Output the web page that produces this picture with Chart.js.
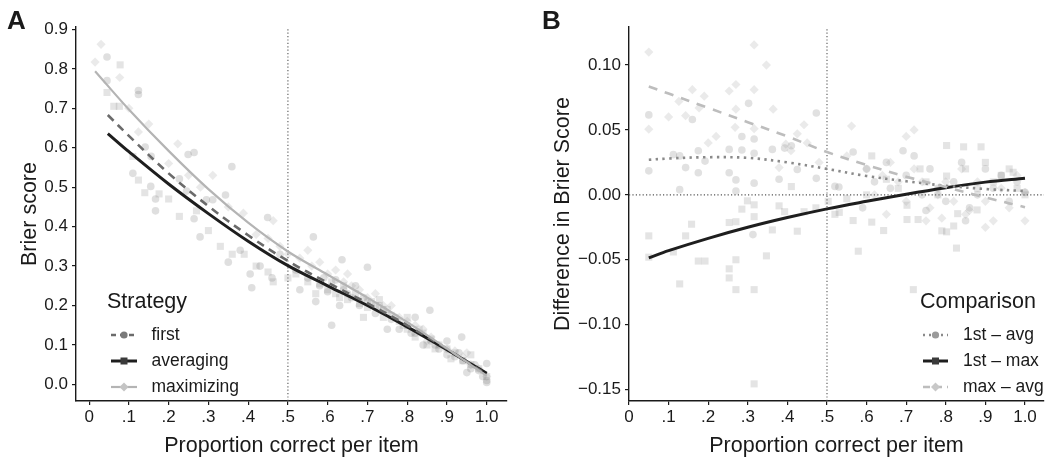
<!DOCTYPE html>
<html><head><meta charset="utf-8">
<script src="https://cdn.jsdelivr.net/npm/chart.js@4.4.1/dist/chart.umd.min.js"></script>
<style>
html,body{margin:0;padding:0;background:#fff;}
#wrap{position:relative;width:1055px;height:459px;overflow:hidden;}
.c{position:absolute;top:0;}
</style></head><body>
<div id="wrap">
<div class="c" style="left:0;"><canvas id="a" width="527" height="459"></canvas></div>
<div class="c" style="left:527px;"><canvas id="b" width="528" height="459"></canvas></div>
</div>
<script>
// ---------- data ----------
const xTicks = [0,0.1,0.2,0.3,0.4,0.5,0.6,0.7,0.8,0.9,1.0];
const xTickLabels = ["0",".1",".2",".3",".4",".5",".6",".7",".8",".9","1.0"];
const aYTicks = [0,0.1,0.2,0.3,0.4,0.5,0.6,0.7,0.8,0.9];
const aYTickLabels = ["0.0","0.1","0.2","0.3","0.4","0.5","0.6","0.7","0.8","0.9"];
const bYTicks = [-0.15,-0.10,-0.05,0,0.05,0.10];
const bYTickLabels = ["\u22120.15","\u22120.10","\u22120.05","0.00","0.05","0.10"];

const aTitleX = "Proportion correct per item";
const aTitleY = "Brier score";
const bTitleY = "Difference in Brier Score";
const legendATitle = "Strategy";
const legendALabels = ["first","averaging","maximizing"];
const legendBTitle = "Comparison";
const legendBLabels = ["1st \u2013 avg","1st \u2013 max","max \u2013 avg"];

// Panel A fitted curves
const firstCurveX = [0.047,0.1,0.2,0.3,0.4,0.5,0.6,0.7,0.8,0.9,1.0];
const firstCurveY = [0.683,0.630,0.535,0.452,0.378,0.313,0.258,0.206,0.150,0.090,0.025];
const avgCurveX   = [0.047,0.1,0.2,0.3,0.4,0.5,0.6,0.7,0.8,0.9,1.0];
const avgCurveY   = [0.636,0.590,0.508,0.433,0.363,0.301,0.250,0.200,0.146,0.088,0.028];
const maxCurveX   = [0.015,0.1,0.2,0.3,0.4,0.5,0.6,0.7,0.8,0.9,1.0];
const maxCurveY   = [0.794,0.697,0.592,0.495,0.410,0.337,0.278,0.220,0.158,0.091,0.022];

// Panel A item points [x, y]
const firstPts = [[0.045,0.83],[0.045,0.77],[0.124,0.745],[0.124,0.735],[0.141,0.602],[0.156,0.578],[0.11,0.535],[0.155,0.502],[0.167,0.47],[0.167,0.44],[0.249,0.583],[0.264,0.588],[0.359,0.552],[0.264,0.42],[0.295,0.468],[0.311,0.468],[0.343,0.48],[0.227,0.521],[0.245,0.49],[0.449,0.423],[0.279,0.374],[0.35,0.31],[0.409,0.245],[0.405,0.28],[0.564,0.374],[0.70,0.297],[0.61,0.15],[0.857,0.188],[0.937,0.12],[0.48,0.33],[0.52,0.29],[0.55,0.27],[0.58,0.25],[0.6,0.235],[0.62,0.265],[0.636,0.316],[0.64,0.24],[0.66,0.22],[0.68,0.2],[0.7,0.21],[0.72,0.18],[0.74,0.19],[0.76,0.165],[0.78,0.14],[0.8,0.15],[0.82,0.13],[0.84,0.1],[0.86,0.11],[0.88,0.09],[0.9,0.075],[0.92,0.07],[0.94,0.06],[0.96,0.04],[0.98,0.035],[1.0,0.005],[1.0,0.01],[1.0,0.053],[0.99,0.02],[0.97,0.05],[0.95,0.03],[0.53,0.24],[0.57,0.21],[0.63,0.2],[0.67,0.25],[0.75,0.14],[0.82,0.17],[0.9,0.11],[0.43,0.3],[0.38,0.34],[0.46,0.27],[0.59,0.27],[0.65,0.23],[0.69,0.22],[0.73,0.2],[0.77,0.17],[0.81,0.13],[0.87,0.1],[0.93,0.08]];
const avgPts = [[0.045,0.74],[0.062,0.705],[0.076,0.705],[0.078,0.81],[0.11,0.578],[0.124,0.518],[0.14,0.486],[0.176,0.483],[0.227,0.426],[0.463,0.26],[0.36,0.33],[0.39,0.33],[0.42,0.30],[0.45,0.285],[0.5,0.27],[0.52,0.28],[0.55,0.26],[0.58,0.255],[0.6,0.24],[0.62,0.23],[0.64,0.25],[0.65,0.215],[0.68,0.205],[0.7,0.195],[0.72,0.2],[0.74,0.17],[0.76,0.175],[0.78,0.16],[0.8,0.14],[0.8,0.17],[0.82,0.12],[0.84,0.13],[0.86,0.115],[0.88,0.1],[0.9,0.09],[0.92,0.08],[0.94,0.06],[0.96,0.05],[0.98,0.04],[1.0,0.02],[0.3,0.39],[0.27,0.44],[0.2,0.47],[0.33,0.35],[0.57,0.23],[0.67,0.23],[0.73,0.215],[0.85,0.1],[0.91,0.065],[0.96,0.075],[0.69,0.17],[0.61,0.26],[0.63,0.22],[0.71,0.21],[0.75,0.19],[0.79,0.15],[0.83,0.14],[0.87,0.09]];
const maxPts = [[0.03,0.862],[0.015,0.817],[0.077,0.778],[0.124,0.64],[0.223,0.61],[0.311,0.53],[0.388,0.434],[0.463,0.415],[0.2,0.56],[0.25,0.53],[0.35,0.45],[0.42,0.38],[0.48,0.35],[0.5,0.33],[0.53,0.32],[0.56,0.3],[0.58,0.31],[0.6,0.28],[0.62,0.29],[0.64,0.26],[0.66,0.25],[0.68,0.24],[0.7,0.22],[0.72,0.23],[0.74,0.2],[0.76,0.2],[0.78,0.17],[0.8,0.16],[0.82,0.15],[0.84,0.14],[0.86,0.12],[0.88,0.1],[0.9,0.09],[0.92,0.085],[0.94,0.07],[0.96,0.05],[0.98,0.04],[1.0,0.02],[0.1,0.7],[0.15,0.66],[0.28,0.5],[0.45,0.37],[0.55,0.34],[0.65,0.28],[0.75,0.18],[0.85,0.11],[0.95,0.08]];

// Panel B fitted curves
const bCurveX = [0.05,0.1,0.2,0.3,0.4,0.5,0.6,0.7,0.8,0.9,1.0];
const faCurveY = [0.027,0.028,0.029,0.0285,0.025,0.020,0.0145,0.0105,0.007,0.0045,0.003];
const fmCurveY = [-0.0485,-0.043,-0.0335,-0.025,-0.0175,-0.0108,-0.005,0.0005,0.0055,0.0098,0.0128];
const maCurveY = [0.0835,0.078,0.067,0.056,0.045,0.033,0.023,0.014,0.006,-0.002,-0.0095];

// Panel B item points [x, y]
const faPts = [[0.05,0.0616],[0.05,0.0185],[0.112,0.031],[0.128,0.03],[0.143,0.021],[0.16,0.058],[0.175,0.034],[0.175,0.017],[0.192,0.026],[0.253,0.035],[0.253,0.017],[0.27,0.0115],[0.285,0.0345],[0.285,0.045],[0.302,0.0705],[0.316,0.043],[0.316,0.032],[0.316,0.009],[0.362,0.035],[0.379,0.012],[0.393,0.036],[0.41,0.0378],[0.425,0.0195],[0.473,0.063],[0.473,0.0127],[0.128,0.004],[0.27,0.003],[0.52,0.0065],[0.566,0.033],[0.692,0.034],[0.6,0.02],[0.62,0.01],[0.65,0.025],[0.66,0.005],[0.7,0.015],[0.72,0.03],[0.74,0.0],[0.76,0.02],[0.78,0.005],[0.8,-0.005],[0.82,0.01],[0.84,0.025],[0.86,-0.01],[0.88,0.0],[0.9,0.02],[0.92,0.005],[0.94,0.015],[0.96,-0.005],[0.98,0.01],[1.0,0.002],[0.313,-0.0306],[0.59,-0.01],[0.75,-0.012],[0.85,-0.02],[0.53,0.006]];
const fmPts = [[0.05,-0.0316],[0.05,-0.048],[0.143,-0.0316],[0.158,-0.0226],[0.175,-0.051],[0.192,-0.051],[0.253,-0.0213],[0.27,-0.0207],[0.285,-0.011],[0.299,-0.0046],[0.316,-0.0077],[0.316,-0.0168],[0.27,-0.05],[0.253,-0.057],[0.253,-0.064],[0.347,-0.047],[0.362,-0.027],[0.379,-0.0085],[0.393,-0.013],[0.41,0.0064],[0.425,-0.028],[0.442,-0.013],[0.472,-0.01],[0.503,-0.005],[0.52,-0.015],[0.112,-0.044],[0.128,-0.0686],[0.27,-0.073],[0.316,-0.073],[0.316,-0.1456],[0.579,-0.0434],[0.718,-0.073],[0.827,-0.041],[0.79,-0.0277],[0.802,0.038],[0.845,0.037],[0.889,0.037],[0.613,0.03],[0.735,0.02],[0.802,0.0145],[0.97,0.0174],[0.566,-0.0198],[0.613,-0.021],[0.643,-0.0275],[0.702,-0.019],[0.73,-0.019],[0.802,-0.0285],[0.82,-0.024],[0.83,-0.0145],[0.879,-0.0116],[0.702,-0.008],[0.531,-0.0135],[0.65,0.012],[0.68,0.005],[0.75,0.01],[0.85,0.02],[0.9,0.025],[0.92,0.01],[0.94,0.015],[0.96,0.02],[0.98,0.005],[1.0,0.0],[0.88,0.005],[0.78,0.0],[0.6,0.0],[0.55,-0.003]];
const maPts = [[0.05,0.11],[0.316,0.1155],[0.347,0.1],[0.16,0.081],[0.27,0.085],[0.253,0.08],[0.316,0.081],[0.19,0.076],[0.177,0.067],[0.126,0.072],[0.143,0.061],[0.05,0.0506],[0.27,0.066],[0.364,0.066],[0.442,0.054],[0.268,0.052],[0.316,0.051],[0.425,0.047],[0.396,0.039],[0.409,0.034],[0.379,0.021],[0.562,0.053],[0.7,0.045],[0.72,0.05],[0.1,0.06],[0.22,0.045],[0.2,0.04],[0.45,0.04],[0.48,0.025],[0.55,0.03],[0.6,0.02],[0.62,0.0],[0.64,0.015],[0.66,0.025],[0.68,0.01],[0.7,-0.005],[0.72,0.02],[0.74,0.01],[0.76,-0.01],[0.78,0.0],[0.79,-0.018],[0.8,0.01],[0.82,-0.005],[0.84,0.02],[0.86,-0.012],[0.88,0.01],[0.9,-0.005],[0.92,-0.02],[0.94,0.005],[0.96,-0.01],[0.98,0.015],[1.0,-0.02],[1.0,0.002],[0.65,-0.015],[0.75,-0.02],[0.85,-0.015],[0.9,-0.025]];

// axis ranges
const aXMin = -0.033, aXMax = 1.051, aYMin = -0.042, aYMax = 0.906;
const bXMin = 0, bXMax = 1.048, bYMin = -0.1588, bYMax = 0.1293;
const refX = 0.5, refY = 0;

// ---------- helpers ----------
const F = "'Liberation Sans', Arial, Helvetica, sans-serif";
const TXT = '#1a1a1a';
const zip = (xs, ys) => xs.map((x, i) => ({x, y: ys[i]}));
const pts = arr => arr.map(p => ({x: p[0], y: p[1]}));

const S = {
  first: {color:'#6b6b6b', width:2.6, dash:[8,6], marker:'circle', mcolor:'#7a7a7a'},
  avg:   {color:'#1e1e1e', width:3, dash:[], marker:'rect', mcolor:'#3a3a3a'},
  max:   {color:'#b4b4b4', width:2.2, dash:[], marker:'rectRot', mcolor:'#c4c4c4'},
  fa:    {color:'#8a8a8a', width:2.6, dash:[2.4,4.4], marker:'circle', mcolor:'#9a9a9a'},
  fm:    {color:'#1e1e1e', width:3, dash:[], marker:'rect', mcolor:'#3a3a3a'},
  ma:    {color:'#bdbdbd', width:2.6, dash:[9,8], marker:'rectRot', mcolor:'#c8c8c8'}
};

function curve(data, st) {
  return {type:'scatter', data, showLine:true, pointRadius:0, borderColor:st.color, borderWidth:st.width,
    borderDash:st.dash, tension:0.35, fill:false, order:0};
}
function cloud(data, style, color, r) {
  return {type:'scatter', data, showLine:false, pointStyle:style, pointRadius:r, pointBorderWidth:0,
    pointBackgroundColor:color, backgroundColor:color, borderColor:'rgba(0,0,0,0)', order:1};
}
function refLine(data) {
  return {type:'scatter', data, showLine:true, pointRadius:0, borderColor:'#555', borderWidth:1.1,
    borderDash:[1.2,2.2], order:2};
}

function marker(ctx, kind, x, y, color) {
  ctx.fillStyle = color; ctx.beginPath();
  if (kind === 'circle') { ctx.arc(x, y, 3.6, 0, Math.PI*2); }
  else if (kind === 'rect') { ctx.rect(x-3.5, y-3.5, 7, 7); }
  else { ctx.moveTo(x, y-4.5); ctx.lineTo(x+4.5, y); ctx.lineTo(x, y+4.5); ctx.lineTo(x-4.5, y); ctx.closePath(); }
  ctx.fill();
}
function drawLegend(ctx, L) {
  ctx.save();
  ctx.fillStyle = TXT; ctx.textAlign = 'left';
  ctx.font = '21.5px ' + F; ctx.textBaseline = 'alphabetic';
  ctx.fillText(L.title, L.titleX, L.titleBase);
  ctx.font = '17.5px ' + F; ctx.textBaseline = 'middle';
  L.labels.forEach((lab, i) => {
    const st = L.styles[i], y = L.rows[i];
    ctx.beginPath(); ctx.strokeStyle = st.color; ctx.lineWidth = st.width;
    ctx.setLineDash(st.legendDash || []); ctx.moveTo(L.x0, y); ctx.lineTo(L.x1, y); ctx.stroke();
    ctx.setLineDash([]);
    marker(ctx, st.marker, (L.x0+L.x1)/2, y, st.mcolor);
    ctx.fillStyle = TXT; ctx.fillText(lab, L.textX, y);
  });
  ctx.restore();
}
S.first.legendDash = [5,4]; S.fa.legendDash = [2,4]; S.ma.legendDash = [7,5];

function axisX(min, max, title) {
  return {type:'linear', min, max,
    afterBuildTicks: s => { s.ticks = xTicks.map(v => ({value:v})); },
    afterFit: s => { s.height = 58; },
    ticks:{callback:(v,i) => xTickLabels[i], font:{family:F, size:17}, color:TXT, padding:2, maxRotation:0, autoSkip:false},
    grid:{display:true, drawOnChartArea:false, drawTicks:true, tickLength:4, color:TXT, lineWidth:1.2},
    border:{display:true, color:TXT, width:1.4},
    title:{display:true, text:title, font:{family:F, size:21.5}, color:TXT, padding:{top:0, bottom:0}}};
}
function axisY(min, max, ticks, labels, title, width, tpad) {
  return {type:'linear', min, max,
    afterBuildTicks: s => { s.ticks = ticks.map(v => ({value:v})); },
    afterFit: s => { s.width = width; },
    ticks:{callback:(v,i) => labels[i], font:{family:F, size:17}, color:TXT, padding:4, autoSkip:false},
    grid:{display:true, drawOnChartArea:false, drawTicks:true, tickLength:4, color:TXT, lineWidth:1.2},
    border:{display:true, color:TXT, width:1.4},
    title:{display:true, text:title, font:{family:F, size:21.5}, color:TXT, padding:{top:tpad, bottom:0}}};
}

const common = {responsive:false, animation:false, events:[],
  plugins:{legend:{display:false}, tooltip:{enabled:false}}};

// ---------- Panel A ----------
new Chart(document.getElementById('a'), {
  type:'scatter',
  data:{datasets:[
    curve(zip(maxCurveX, maxCurveY), S.max),
    curve(zip(firstCurveX, firstCurveY), S.first),
    curve(zip(avgCurveX, avgCurveY), S.avg),
    cloud(pts(maxPts), 'rectRot', 'rgba(150,150,150,0.20)', 4.6),
    cloud(pts(avgPts), 'rect', 'rgba(120,120,120,0.20)', 5),
    cloud(pts(firstPts), 'circle', 'rgba(120,120,120,0.24)', 3.8),
    refLine([{x:refX, y:aYMin}, {x:refX, y:aYMax}])
  ]},
  options:Object.assign({}, common, {
    layout:{padding:{left:0, top:27, right:20, bottom:0}},
    scales:{
      x:axisX(aXMin, aXMax, aTitleX),
      y:axisY(aYMin, aYMax, aYTicks, aYTickLabels, aTitleY, 76, 17)
    }
  }),
  plugins:[{id:'decorA', afterDraw(chart){
    const ctx = chart.ctx; ctx.save();
    ctx.fillStyle = TXT; ctx.font = 'bold 26px ' + F; ctx.textBaseline = 'alphabetic'; ctx.textAlign = 'left';
    ctx.fillText('A', 7, 29); ctx.restore();
    drawLegend(ctx, {title:legendATitle, titleX:107, titleBase:308, labels:legendALabels,
      styles:[S.first, S.avg, S.max], rows:[335, 361, 387], x0:111, x1:137, textX:151.5});
  }}]
});

// ---------- Panel B ----------
new Chart(document.getElementById('b'), {
  type:'scatter',
  data:{datasets:[
    curve(zip(bCurveX, maCurveY), S.ma),
    curve(zip(bCurveX, faCurveY), S.fa),
    curve(zip(bCurveX, fmCurveY), S.fm),
    cloud(pts(maPts), 'rectRot', 'rgba(150,150,150,0.20)', 4.6),
    cloud(pts(fmPts), 'rect', 'rgba(120,120,120,0.20)', 5),
    cloud(pts(faPts), 'circle', 'rgba(120,120,120,0.22)', 3.8),
    refLine([{x:refX, y:bYMin}, {x:refX, y:bYMax}]),
    refLine([{x:bXMin, y:refY}, {x:bXMax, y:refY}])
  ]},
  options:Object.assign({}, common, {
    layout:{padding:{left:0, top:27, right:11, bottom:0}},
    scales:{
      x:axisX(bXMin, bXMax, aTitleX),
      y:axisY(bYMin, bYMax, bYTicks, bYTickLabels, bTitleY, 102, 23)
    }
  }),
  plugins:[{id:'decorB', afterDraw(chart){
    const ctx = chart.ctx; ctx.save();
    ctx.fillStyle = TXT; ctx.font = 'bold 26px ' + F; ctx.textBaseline = 'alphabetic'; ctx.textAlign = 'left';
    ctx.fillText('B', 15, 29); ctx.restore();
    drawLegend(ctx, {title:legendBTitle, titleX:393, titleBase:308, labels:legendBLabels,
      styles:[S.fa, S.fm, S.ma], rows:[335, 361, 387], x0:396, x1:421, textX:436});
  }}]
});
</script>
</body></html>
